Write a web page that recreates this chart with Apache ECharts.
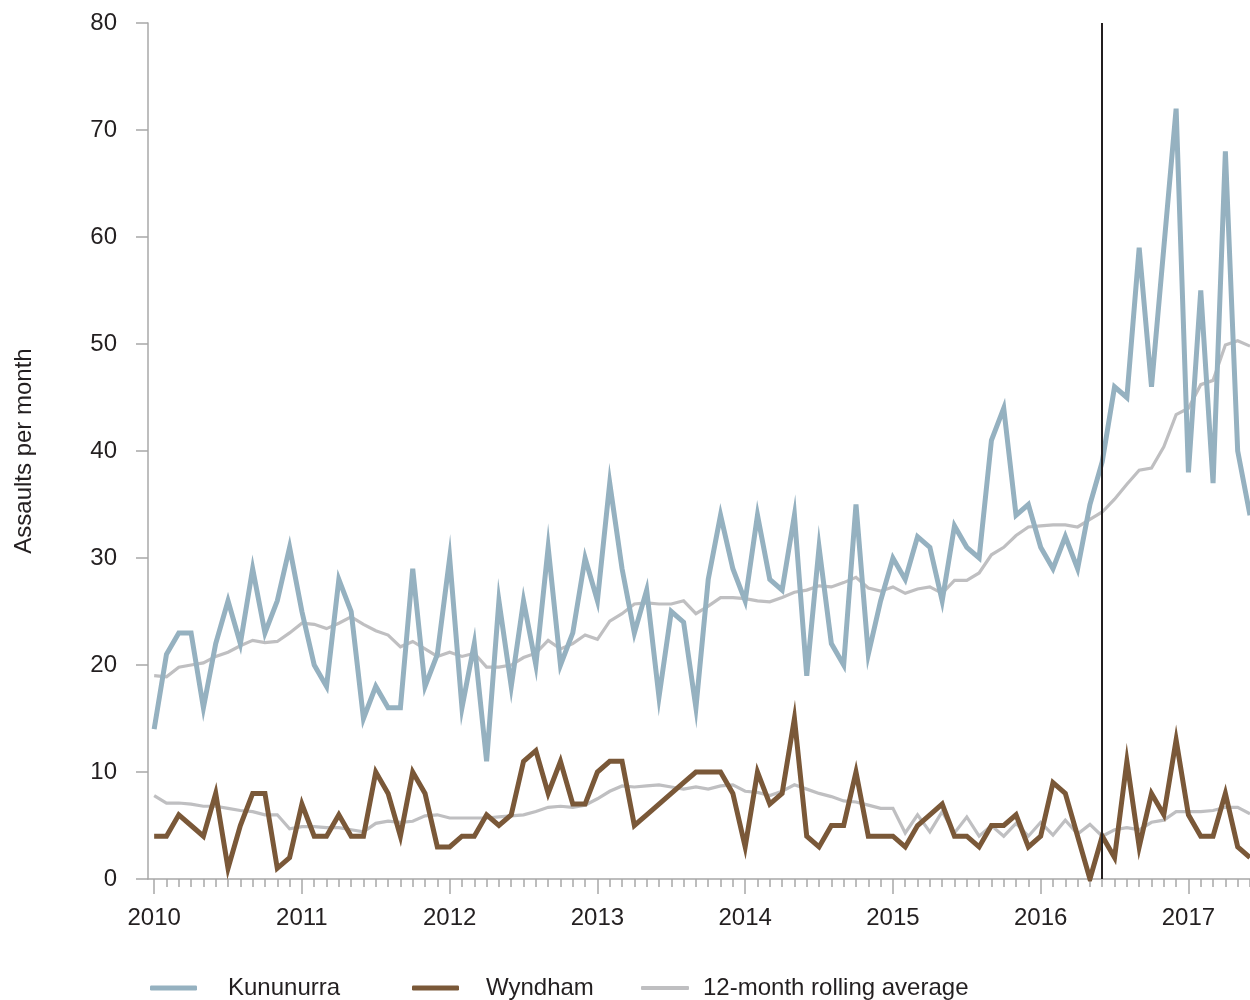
<!DOCTYPE html>
<html><head><meta charset="utf-8">
<script src="https://cdn.jsdelivr.net/npm/echarts@6/dist/echarts.min.js"></script>
<style>html,body{margin:0;padding:0;background:#fff}#c{width:1250px;height:1000px}</style>
</head><body><div id="c"></div>
<script>
const years = ['2010','2011','2012','2013','2014','2015','2016','2017'];
const kununurra = [14,21,23,23,16,22,26,22,29,23,26,31, 25,20,18,28,25,15,18,16,16,29,18,21, 30,16,22,11,26,18,26,20,31,20,23,30, 26,37,29,23,27,17,25,24,16,28,34,29, 26,34,28,27,34,19,31,22,20,35,21,26, 30,28,32,31,26,33,31,30,41,44,34,35, 31,29,32,29,35,39,46,45,59,46,59,72, 38,55,37,68,40,34];
const wyndham = [4,4,6,5,4,8,1,5,8,8,1,2, 7,4,4,6,4,4,10,8,4,10,8,3, 3,4,4,6,5,6,11,12,8,11,7,7, 10,11,11,5,6,7,8,9,10,10,10,8, 3,10,7,8,15,4,3,5,5,10,4,4, 4,3,5,6,7,4,4,3,5,5,6,3, 4,9,8,4,0,4,2,11,3,8,6,13, 6,4,4,8,3,2];
const kununurraAvg = [19.0,18.9,19.8,20.0,20.2,20.8,21.2,21.8,22.3,22.1,22.2,23.0, 23.9,23.8,23.4,23.9,24.5,23.8,23.2,22.8,21.7,22.2,21.5,20.8, 21.2,20.8,21.1,19.8,19.8,20.0,20.7,21.1,22.3,21.5,22.0,22.8, 22.4,24.1,24.8,25.7,25.8,25.7,25.7,26.0,24.8,25.5,26.3,26.3, 26.2,26.0,25.9,26.3,26.8,27.0,27.4,27.3,27.7,28.2,27.2,26.9, 27.3,26.7,27.1,27.3,26.7,27.9,27.9,28.6,30.3,31.0,32.1,32.9, 33.0,33.1,33.1,32.9,33.6,34.3,35.5,36.9,38.2,38.4,40.4,43.4, 44.0,46.2,46.6,49.9,50.3,49.8];
const wyndhamAvg = [7.8,7.1,7.1,7.0,6.8,6.8,6.6,6.4,6.3,6.0,6.0,4.7, 4.9,4.9,4.8,4.8,4.6,4.4,5.2,5.4,5.3,5.4,5.9,6.0, 5.7,5.7,5.7,5.7,5.8,5.9,6.0,6.3,6.7,6.8,6.7,6.9, 7.5,8.2,8.7,8.6,8.7,8.8,8.6,8.4,8.6,8.4,8.7,8.8, 8.2,8.1,7.8,8.2,8.8,8.4,8.0,7.7,7.3,7.2,6.9,6.6, 6.6,4.3,6.0,4.4,6.3,4.3,5.8,4.0,5.0,4.0,5.2,4.0, 5.3,4.1,5.5,4.2,5.1,4.0,4.6,4.8,4.6,5.3,5.5,6.3, 6.3,6.3,6.4,6.7,6.7,6.1];
const markerMonth = 77; // June 2016
const yTicks = [0,10,20,30,40,50,60,70,80];

const monthIdx = kununurra.map((_, i) => i);
const yearIdx = years.map((_, k) => k * 12);
const pairs = arr => arr.map((v, i) => [i, v]);

const FONT = '"Liberation Sans", Arial, sans-serif';
const TXT = '#231f20';
const AX = '#a8a8a8';
const BLUE = '#95b1c0', BROWN = '#7a5838', GRAY = '#bfbfc1';

const chart = echarts.init(document.getElementById('c'), null, {renderer: 'canvas'});
const legendText = pad => ({fontSize: 24, color: TXT, fontFamily: FONT, padding: [0, 0, 0, pad]});
chart.setOption({
  animation: false,
  grid: {left: 148, right: 0, top: 23, bottom: 121},
  xAxis: [{
    type: 'value', min: -0.5, max: monthIdx[monthIdx.length - 1],
    axisLine: {show: true, onZero: false, lineStyle: {color: AX, width: 1.5}},
    axisTick: {show: true, customValues: monthIdx, length: 8, lineStyle: {color: AX, width: 1.5}},
    axisLabel: {show: false}, splitLine: {show: false}
  }, {
    type: 'value', min: -0.5, max: monthIdx[monthIdx.length - 1], position: 'bottom',
    axisLine: {show: false, onZero: false},
    axisTick: {show: true, customValues: yearIdx, length: 15, lineStyle: {color: AX, width: 1.5}},
    axisLabel: {show: true, customValues: yearIdx, formatter: v => years[Math.round(v / 12)],
      fontSize: 24, color: TXT, fontFamily: FONT, margin: 27},
    splitLine: {show: false}
  }],
  yAxis: {
    type: 'value', min: yTicks[0], max: yTicks[yTicks.length - 1], interval: 10,
    name: 'Assaults per month', nameLocation: 'middle', nameGap: 112,
    nameTextStyle: {fontSize: 24, color: TXT, fontFamily: FONT},
    axisLine: {show: true, onZero: false, lineStyle: {color: AX, width: 1.5}},
    axisTick: {show: true, length: 12, lineStyle: {color: AX, width: 1.5}},
    axisLabel: {fontSize: 24, color: TXT, fontFamily: FONT, margin: 31},
    splitLine: {show: false}
  },
  legend: [
    {data: ['Kununurra'], left: 145, top: 971, icon: 'roundRect', itemWidth: 47, itemHeight: 5, textStyle: legendText(26)},
    {data: ['Wyndham'], left: 407, top: 971, icon: 'roundRect', itemWidth: 47, itemHeight: 5, textStyle: legendText(22)},
    {data: ['12-month rolling average'], left: 636, top: 971, icon: 'roundRect', itemWidth: 48, itemHeight: 4, textStyle: legendText(9)}
  ],
  series: [
    {name: '12-month rolling average', type: 'line', data: pairs(kununurraAvg), symbol: 'none', color: GRAY,
      lineStyle: {color: GRAY, width: 3.2, join: 'miter'}, silent: true},
    {name: '12-month rolling average', type: 'line', data: pairs(wyndhamAvg), symbol: 'none', color: GRAY,
      lineStyle: {color: GRAY, width: 3.2, join: 'miter'}, silent: true},
    {name: 'Kununurra', type: 'line', data: pairs(kununurra), symbol: 'none', color: BLUE,
      lineStyle: {color: BLUE, width: 5, join: 'miter'}, silent: true},
    {name: 'Wyndham', type: 'line', data: pairs(wyndham), symbol: 'none', color: BROWN,
      lineStyle: {color: BROWN, width: 5, join: 'miter'}, silent: true,
      markLine: {silent: true, symbol: ['none', 'none'], label: {show: false}, z: 10,
        lineStyle: {color: '#231f20', width: 2, type: 'solid'}, data: [{xAxis: markerMonth}]}}
  ]
});
</script></body></html>
